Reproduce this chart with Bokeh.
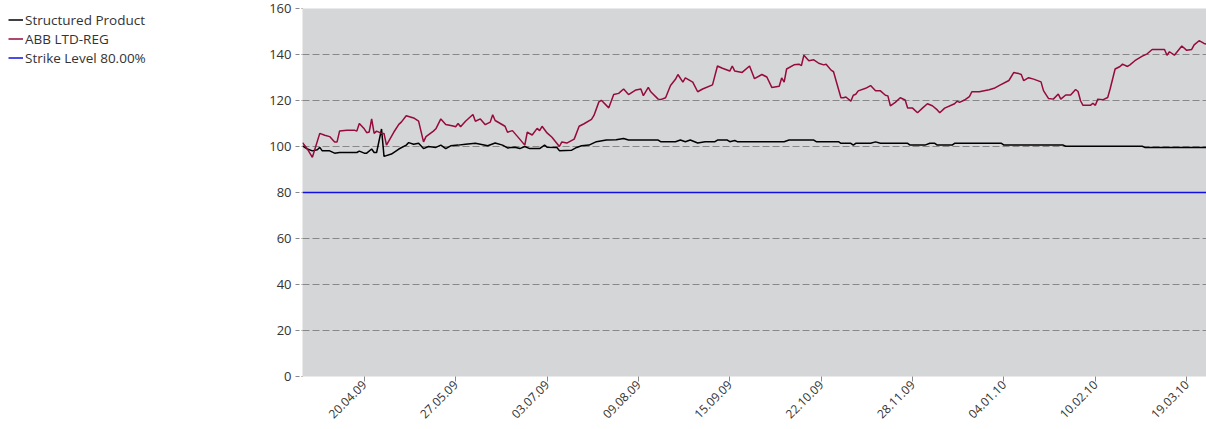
import math
import pandas as pd
from bokeh.plotting import figure
from bokeh.layouts import row
from bokeh.models import (Legend, LegendItem, FixedTicker, DatetimeTickFormatter, Range1d)
from bokeh.embed import file_html
from bokeh.resources import INLINE

# ---------------- data ----------------
START_DATE = "2009-03-26"
END_DATE = "2010-03-27"

series_names = ["Structured Product", "ABB LTD-REG", "Strike Level 80.00%"]
series_colors = ["#000000", "#960a3c", "#1010e0"]

sp_days = [0, 2, 4, 6, 7, 8, 11, 13, 15, 18, 22, 23, 25, 26, 28, 29, 30, 32, 33, 36,
           39, 42, 43, 45, 47, 49, 51, 54, 56, 58, 60, 63, 66, 70, 72, 75, 78, 81, 83, 86,
           88, 90, 92, 96, 98, 99, 103, 104, 109, 111, 113, 116, 119, 123, 127, 130, 132, 144, 145, 151,
           153, 155, 157, 160, 163, 167, 168, 172, 173, 175, 176, 195, 197, 207, 208, 217, 218, 222, 223, 224,
           230, 232, 234, 245, 246, 252, 254, 256, 257, 263, 264, 283, 284, 308, 309, 340, 341, 366]
sp_values = [100.3, 98.9, 98.1, 98.6, 99.6, 98.1, 98.1, 97.1, 97.4, 97.4, 97.4, 98.0, 97.1, 97.1, 98.9, 97.4, 97.4, 107.6, 95.7, 96.7,
             98.9, 100.6, 101.7, 101.0, 101.4, 99.1, 100.0, 99.6, 100.6, 99.1, 100.3, 100.6, 101.0, 101.4, 101.0, 100.3, 101.5, 100.6, 99.4, 99.7,
             99.1, 100.0, 99.1, 99.1, 100.6, 99.7, 99.6, 98.2, 98.4, 99.6, 100.3, 100.6, 102.1, 102.8, 102.9, 103.5, 102.8, 102.8, 102.1, 102.1,
             102.8, 102.1, 102.8, 101.5, 102.1, 102.1, 102.8, 102.8, 102.1, 102.6, 102.1, 102.1, 102.8, 102.8, 102.1, 102.1, 101.4, 101.4, 100.6, 101.4,
             101.4, 102.0, 101.4, 101.4, 100.6, 100.6, 101.4, 101.4, 100.6, 100.6, 101.4, 101.4, 100.6, 100.6, 100.1, 100.1, 99.6, 99.6]

abb_days = [0, 2, 4, 7, 9, 11, 13, 14, 15, 18,
            21, 22, 23, 25, 26, 27, 28, 29, 30, 32,
            33, 34, 37, 39, 40, 42, 45, 47, 49, 50,
            53, 54, 56, 58, 61, 62, 63, 64, 66, 69,
            70, 72, 74, 76, 77, 78, 82, 83, 85, 87,
            90, 91, 93, 95, 96, 97, 99, 101, 104, 105,
            107, 110, 112, 114, 117, 118, 120, 121, 124, 126,
            128, 130, 132, 135, 137, 138, 140, 141, 144, 145,
            147, 149, 151, 152, 154, 155, 158, 160, 162, 166,
            168, 170, 173, 174, 175, 178, 181, 183, 186, 188,
            190, 193, 194, 195, 196, 199, 201, 202, 203, 205,
            207, 209, 211, 212, 214, 215, 216, 218, 219, 220,
            222, 223, 224, 225, 228, 230, 232, 234, 236, 237,
            238, 240, 242, 244, 245, 247, 249, 251, 253, 255,
            257, 258, 260, 264, 265, 266, 268, 270, 271, 274,
            278, 280, 282, 286, 288, 290, 291, 292, 294, 296,
            299, 300, 302, 304, 306, 307, 309, 311, 313, 314,
            315, 316, 319, 320, 321, 322, 324, 326, 327, 329,
            331, 332, 334, 335, 337, 340, 342, 344, 349, 350,
            351, 353, 356, 358, 360, 361, 363, 365, 366]
abb_values = [101.7, 98.9, 95.3, 105.7, 104.9, 104.3, 102.0, 102.0, 106.7, 107.1,
              107.1, 106.7, 110.0, 107.7, 106.0, 106.3, 112.0, 105.7, 106.7, 105.7,
              105.7, 100.6, 106.3, 109.6, 110.6, 113.4, 112.4, 111.0, 102.0, 104.3,
              106.7, 107.7, 112.0, 109.6, 108.9, 108.6, 110.0, 108.6, 111.0, 113.9,
              111.0, 112.0, 109.5, 110.6, 113.8, 111.3, 108.8, 106.2, 106.9, 104.4,
              100.6, 106.2, 105.0, 107.9, 106.9, 108.8, 105.9, 104.0, 100.0, 102.0,
              101.5, 103.2, 108.8, 109.9, 111.8, 113.5, 119.4, 120.1, 116.8, 122.6,
              123.1, 125.0, 122.6, 124.6, 125.0, 122.1, 125.7, 123.8, 120.6, 120.4,
              121.2, 126.5, 129.2, 131.3, 128.0, 129.8, 128.0, 123.8, 125.0, 126.8,
              135.0, 134.0, 132.8, 135.0, 132.8, 132.2, 135.0, 129.5, 131.3, 130.2,
              125.7, 126.2, 129.8, 128.0, 133.7, 135.5, 135.8, 135.2, 139.7, 137.3,
              137.7, 136.2, 135.5, 135.8, 133.2, 132.5, 128.7, 121.2, 121.2, 121.5,
              119.7, 122.3, 122.7, 124.2, 125.3, 126.5, 124.2, 124.2, 122.3, 122.0,
              117.7, 119.2, 121.2, 120.2, 116.7, 116.7, 114.7, 116.7, 118.6, 117.7,
              115.9, 114.7, 116.7, 118.6, 119.7, 119.2, 120.2, 121.7, 123.8, 123.8,
              124.7, 125.3, 126.5, 128.7, 132.2, 131.7, 131.3, 128.6, 129.9, 129.3,
              128.1, 124.3, 120.9, 120.6, 122.8, 120.6, 122.4, 122.4, 124.8, 123.9,
              119.9, 117.9, 117.9, 118.8, 117.9, 120.6, 120.3, 121.3, 125.1, 133.7,
              134.8, 135.8, 134.8, 135.5, 137.3, 139.3, 140.3, 142.2, 142.2, 139.7,
              141.2, 139.7, 143.7, 141.8, 142.2, 144.2, 146.0, 144.8, 144.5]

strike_level = 80.0

x_tick_labels = ["20.04.09", "27.05.09", "03.07.09", "09.08.09", "15.09.09",
                 "22.10.09", "28.11.09", "04.01.10", "10.02.10", "19.03.10"]
y_ticks = [0, 20, 40, 60, 80, 100, 120, 140, 160]

# ---------------- build ----------------
start = pd.Timestamp(START_DATE)
end = pd.Timestamp(END_DATE)
sp_dates = [start + pd.Timedelta(days=d) for d in sp_days]
abb_dates = [start + pd.Timedelta(days=d) for d in abb_days]
tick_ms = [pd.to_datetime(t, format="%d.%m.%y").value / 1e6 for t in x_tick_labels]

FONT = "Open Sans"
TXT = "#333333"
GRID = "#888888"

W, H = 1206, 429
LEG_W = 262            # width of the legend column
LEFT, TOP, BOTTOM = 40, 8, 53

# ---- main chart ----
p = figure(width=W - LEG_W, height=H, x_axis_type="datetime",
           x_range=Range1d(start, end), y_range=Range1d(0, 160),
           output_backend="svg", toolbar_location=None,
           min_border_left=LEFT, min_border_right=0, min_border_top=TOP, min_border_bottom=BOTTOM)

p.background_fill_color = "#d5d6d8"
p.border_fill_color = "white"
p.outline_line_color = None

p.line(sp_dates, sp_values, line_color=series_colors[0], line_width=1.5)
p.line(abb_dates, abb_values, line_color=series_colors[1], line_width=1.5)
p.line([start, end], [strike_level, strike_level], line_color=series_colors[2], line_width=1.5)

p.xaxis.ticker = FixedTicker(ticks=tick_ms)
p.xaxis.formatter = DatetimeTickFormatter(days="%d.%m.%y", months="%d.%m.%y", years="%d.%m.%y",
                                          hours="%d.%m.%y", minutes="%d.%m.%y", seconds="%d.%m.%y",
                                          milliseconds="%d.%m.%y", microseconds="%d.%m.%y")
p.xaxis.major_label_orientation = math.pi / 4
p.xaxis.axis_line_color = None
p.xaxis.major_tick_line_color = GRID
p.xaxis.major_tick_out = 5
p.xaxis.major_tick_in = 0
p.xaxis.minor_tick_line_color = None
p.xaxis.major_label_standoff = 1
p.xaxis.major_label_text_font = FONT
p.xaxis.major_label_text_font_size = "12px"
p.xaxis.major_label_text_color = TXT

p.yaxis.ticker = FixedTicker(ticks=y_ticks)
p.yaxis.axis_line_color = None
p.yaxis.major_tick_line_color = GRID
p.yaxis.major_tick_line_dash = "4 2"
p.yaxis.major_tick_out = 7
p.yaxis.major_tick_in = 0
p.yaxis.minor_tick_line_color = None
p.yaxis.major_label_standoff = 4
p.yaxis.major_label_text_font = FONT
p.yaxis.major_label_text_font_size = "13px"
p.yaxis.major_label_text_color = TXT

p.xgrid.grid_line_color = None
p.ygrid.grid_line_color = GRID
p.ygrid.grid_line_dash = "7 3"
p.ygrid.grid_line_width = 1

# ---- legend column (frame aligned with the chart's frame) ----
lg = figure(width=LEG_W, height=H, x_range=Range1d(0, 1), y_range=Range1d(0, 1),
            x_axis_location=None, y_axis_location=None,
            output_backend="svg", toolbar_location=None,
            min_border_left=0, min_border_right=0, min_border_top=TOP, min_border_bottom=BOTTOM)
lg.grid.visible = False
lg.outline_line_color = None
lg.background_fill_color = "white"
lg.border_fill_color = "white"

items = []
for name, color in zip(series_names, series_colors):
    # proxy renderer whose data lies outside this column's visible range;
    # it only supplies the legend's line sample
    r = lg.line([-5, -4], [-5, -5], line_color=color, line_width=1.5)
    items.append(LegendItem(label=name, renderers=[r]))

row_h = 19
frame_h = H - TOP - BOTTOM
legend_top = 10                      # page y of the legend's top edge
legend = Legend(items=items,
                location=(8, frame_h - (legend_top - TOP) - 3 * row_h), orientation="vertical",
                margin=0, padding=0, spacing=0,
                glyph_width=15, glyph_height=row_h, label_height=row_h,
                label_standoff=2,
                label_text_font=FONT, label_text_font_size="13.5px", label_text_color=TXT,
                background_fill_alpha=0, border_line_color=None)
lg.add_layout(legend, "center")

layout = row(lg, p, spacing=0)
open("out.html", "w").write(file_html(layout, INLINE))
